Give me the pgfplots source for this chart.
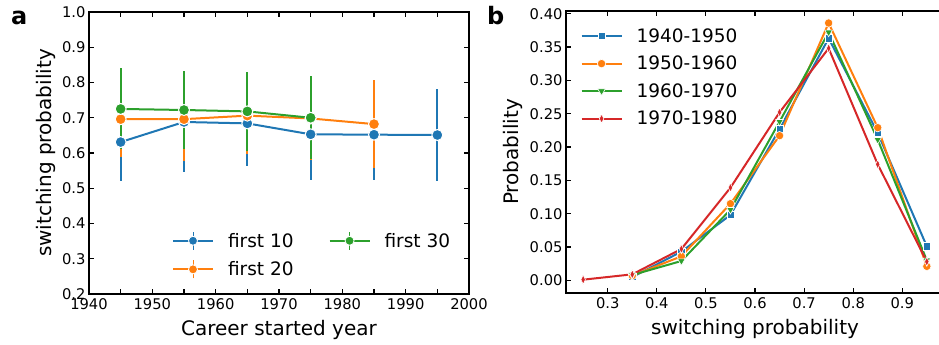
\documentclass[border=0pt]{standalone}
\usepackage{fontspec}
\setmainfont{DejaVu Sans}
\usepackage{pgfplots}
\pgfplotsset{compat=1.18}
\definecolor{c1}{HTML}{1F77B4}
\definecolor{c2}{HTML}{FF7F0E}
\definecolor{c3}{HTML}{2CA02C}
\definecolor{c4}{HTML}{D62728}
\pgfplotsset{
  common/.style={
    scale only axis,
    axis line style={line width=1.7pt},
    major tick style={line width=1.1pt, black},
    minor tick style={line width=1.1pt, black},
    major tick length=5pt, minor tick length=5pt,
    tick align=inside,
    /pgf/number format/assume math mode=true,
    tick label style={font=\fontsize{14.7}{16}\selectfont},
    xticklabel style={yshift=-1.5pt},
    label style={font=\fontsize{20}{22}\selectfont},
    legend style={draw=none, fill=none, font=\fontsize{18.5}{20}\selectfont, row sep=9pt,
      /tikz/every odd column/.append style={column sep=12pt}},
    legend cell align=left,
    legend image code/.code={\draw[mark repeat=2,mark phase=2,##1] plot coordinates {(0pt,0pt) (20pt,0pt) (40pt,0pt)};},
  },
  errleg/.style={legend image code/.code={%
    \draw[##1, mark=none, line width=0.7pt] (20pt,-9pt)--(20pt,9pt);
    \draw[mark repeat=2,mark phase=2,##1] plot coordinates {(0pt,0pt) (20pt,0pt) (40pt,0pt)};}},
  ebar/.style={line width=2pt, color=#1, mark=*, mark size=5.5pt,
    mark options={fill=#1, draw=white, line width=1pt},
    error bars/y dir=both, error bars/y explicit, error bars/error mark=none,
    error bars/error bar style={line width=2pt, color=#1}},
  bline/.style={line width=2pt, color=#1},
}
\pgfplotstableread{
x y e
1945 0.631 0.110
1955 0.688 0.143
1965 0.684 0.122
1975 0.653 0.130
1985 0.652 0.129
1995 0.651 0.131
}\firstten
\pgfplotstableread{
x y e
1945 0.696 0.108
1955 0.696 0.118
1965 0.706 0.110
1975 0.698 0.118
1985 0.682 0.124
}\firsttwenty
\pgfplotstableread{
x y e
1945 0.725 0.115
1955 0.722 0.111
1965 0.718 0.111
1975 0.700 0.118
}\firstthirty
\pgfplotstableread{
x y
0.35 0.005
0.45 0.043
0.55 0.098
0.65 0.227
0.75 0.363
0.85 0.221
0.95 0.051
}\bA
\pgfplotstableread{
x y
0.35 0.007
0.45 0.036
0.55 0.115
0.65 0.217
0.75 0.386
0.85 0.229
0.95 0.021
}\bB
\pgfplotstableread{
x y
0.35 0.008
0.45 0.029
0.55 0.106
0.65 0.238
0.75 0.372
0.85 0.211
0.95 0.030
}\bC
\pgfplotstableread{
x y
0.25 0.001
0.35 0.009
0.45 0.047
0.55 0.139
0.65 0.252
0.75 0.348
0.85 0.174
0.95 0.028
}\bD
\begin{document}
\begin{tikzpicture}
\begin{axis}[common,
  at={(89pt,-294pt)}, anchor=south west,
  width=380pt, height=282pt,
  xmin=1940, xmax=2000, ymin=0.2, ymax=1.0,
  xtick={1940,1950,...,2000}, minor xtick={1945,1955,...,1995},
  ytick={0.2,0.3,...,1.0},
  xticklabel style={/pgf/number format/set thousands separator={}},
  yticklabel style={/pgf/number format/.cd, fixed, fixed zerofill, precision=1},
  xlabel={Career started year}, ylabel={switching probability},
  xlabel style={at={(axis description cs:0.5,0)}, anchor=base, yshift=-41pt},
  ylabel style={at={(axis description cs:-0.113,0.5)}, anchor=center},
  legend columns=2,
  legend style={at={(axis description cs:0.21,0.045)}, anchor=south west,
    /tikz/every even column/.append style={column sep=33pt}},
]
\addplot[forget plot, ebar=c1] table[x=x, y=y, y error=e] {\firstten};
\addplot[forget plot, ebar=c2] table[x=x, y=y, y error=e] {\firsttwenty};
\addplot[forget plot, ebar=c3] table[x=x, y=y, y error=e] {\firstthirty};
\addlegendimage{errleg, c1, line width=2pt, mark=*, mark size=4.5pt, mark options={fill=c1, draw=white, line width=0.8pt}}
\addlegendentry{first 10}
\addlegendimage{errleg, c3, line width=2pt, mark=*, mark size=4.5pt, mark options={fill=c3, draw=white, line width=0.8pt}}
\addlegendentry{first 30}
\addlegendimage{errleg, c2, line width=2pt, mark=*, mark size=4.5pt, mark options={fill=c2, draw=white, line width=0.8pt}}
\addlegendentry{first 20}
\end{axis}
\begin{axis}[common,
  at={(566pt,-293pt)}, anchor=south west,
  width=378pt, height=282pt,
  xmin=0.215, xmax=0.985, ymin=-0.019, ymax=0.404,
  xtick={0.3,0.4,...,0.9},
  ytick={0,0.05,...,0.4},
  xticklabel style={/pgf/number format/.cd, fixed, fixed zerofill, precision=1},
  yticklabel style={/pgf/number format/.cd, fixed, fixed zerofill, precision=2},
  xlabel={switching probability}, ylabel={Probability},
  xlabel style={at={(axis description cs:0.5,0)}, anchor=base, yshift=-41pt},
  ylabel style={at={(axis description cs:-0.140,0.5)}, anchor=center},
  legend style={at={(axis description cs:0.03,0.953)}, anchor=north west, row sep=8.3pt},
]
\addplot[bline=c1, mark=square*, mark size=3.6pt, mark options={fill=c1, draw=white, line width=0.6pt}] table[x=x,y=y] {\bA};
\addlegendentry{1940-1950}
\addplot[bline=c2, mark=*, mark size=4.2pt, mark options={fill=c2, draw=white, line width=0.6pt}] table[x=x,y=y] {\bB};
\addlegendentry{1950-1960}
\addplot[bline=c3, mark=triangle*, mark size=4.4pt, mark options={fill=c3, draw=white, line width=0.6pt, rotate=180}] table[x=x,y=y] {\bC};
\addlegendentry{1960-1970}
\addplot[bline=c4, mark=diamond*, mark size=4.6pt, mark options={fill=c4, draw=white, line width=0.6pt, xscale=0.65}] table[x=x,y=y] {\bD};
\addlegendentry{1970-1980}
\end{axis}
\node[font=\bfseries\fontsize{24}{24}\selectfont, anchor=base west, inner sep=0pt] at (11pt,-25pt) {a};
\node[font=\bfseries\fontsize{24}{24}\selectfont, anchor=base west, inner sep=0pt] at (487pt,-25pt) {b};
\pgfresetboundingbox
\path[use as bounding box] (0,0) rectangle (939pt,-345pt);
\end{tikzpicture}
\end{document}
